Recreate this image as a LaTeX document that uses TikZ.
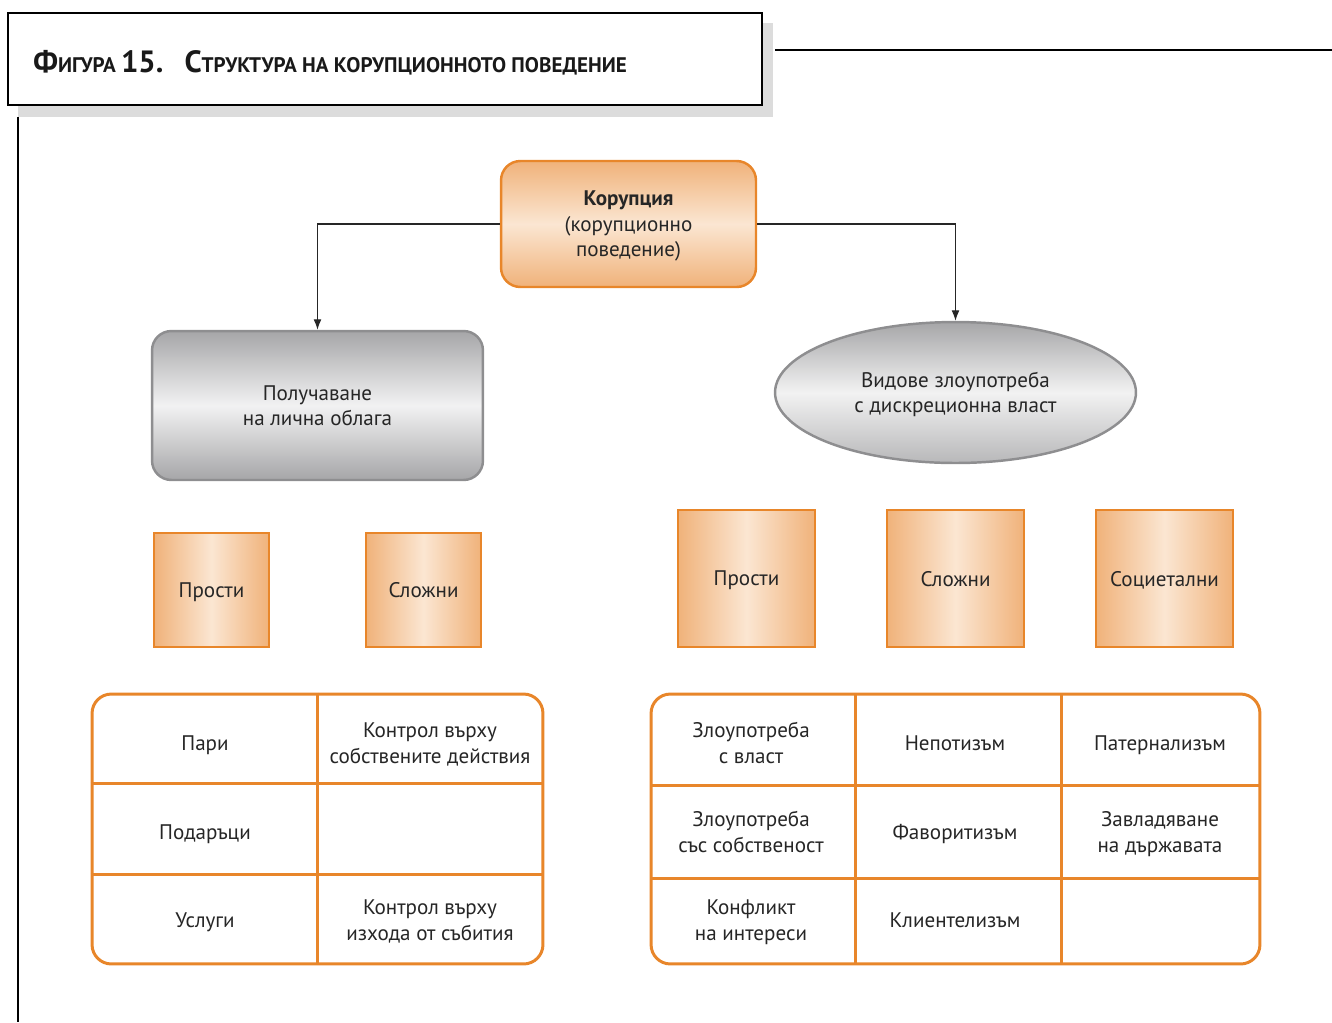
\documentclass[tikz,border=0pt]{standalone}
\usepackage{fontspec}
\setmainfont{PT Sans}
\usetikzlibrary{shapes,arrows,arrows.meta,positioning,calc}

\definecolor{orline}{HTML}{E8862A}
\definecolor{oredge}{HTML}{F0B27A}
\definecolor{ormid}{HTML}{FBE6D2}
\definecolor{grline}{HTML}{8E8E90}
\definecolor{gredge}{HTML}{A6A6A8}
\definecolor{grmid}{HTML}{F2F2F2}
\definecolor{shadowgray}{HTML}{DCDCDC}

% small caps by hand
\newcommand{\capbig}[1]{{\fontsize{17.5}{20}\selectfont #1}}
\newcommand{\capsmall}[1]{{\fontsize{12}{14}\selectfont #1}}
\newcommand{\capgap}{\hskip 3pt}

\begin{document}
\begin{tikzpicture}[
    x=0.02cm, y=-0.02cm,
    font=\fontsize{12}{14.5}\selectfont,
    every node/.append style={text depth=-3pt},
    titlebox/.style={rectangle, draw=black, fill=white, line width=1.2pt, minimum width=15.08cm, minimum height=1.84cm},
    mainbox/.style={rectangle, rounded corners=11pt, draw=orline, line width=1.4pt, top color=oredge, bottom color=oredge, middle color=ormid, minimum width=5.1cm, minimum height=2.52cm, align=center, text=black!85},
    graybox/.style={rectangle, rounded corners=11pt, draw=grline, line width=1.4pt, top color=gredge, bottom color=gredge, middle color=grmid, minimum width=6.62cm, minimum height=2.98cm, align=center, text=black!85},
    grayoval/.style={ellipse, draw=grline, line width=1.4pt, top color=gredge, bottom color=gredge!80, middle color=grmid, minimum width=7.22cm, minimum height=2.82cm, inner sep=0pt, align=center, text=black!85},
    kindbox/.style={rectangle, draw=orline, line width=1.6pt, left color=oredge, right color=oredge, middle color=ormid, minimum width=2.3cm, minimum height=2.28cm, align=center, text=black!85},
    bigkind/.style={kindbox, minimum width=2.74cm, minimum height=2.74cm},
    tablebox/.style={rectangle, rounded corners=11pt, draw=orline, line width=1.7pt},
    gridline/.style={draw=orline, line width=1.7pt},
    cell/.style={align=center, text=black!85},
    arrow/.style={-{Latex[length=6pt,width=4.5pt]}, line width=0.6pt, black!85}
]
\useasboundingbox (0,0) rectangle (1332,1022);

% frame of the figure
\fill[shadowgray] (18,23) rectangle (773,117);
\node[titlebox] (title) at (385,59) {};
\node[anchor=base west, inner sep=0pt, text depth=, font=\bfseries, text=black!90] (titletext) at (33,72) {\capbig{Ф}\capsmall{ИГУРА}\capgap\capbig{15.}\hskip 12pt\capbig{С}\capsmall{ТРУКТУРА}\capgap\capsmall{НА}\capgap\capsmall{КОРУПЦИОННОТО}\capgap\capsmall{ПОВЕДЕНИЕ}};
\draw[line width=1pt] (775,50) -- (1332,50);
\draw[line width=1.3pt] (18,117) -- (18,1022);

% top of the tree
\node[mainbox] (corruption) at (628.5,224) {\textbf{Корупция}\\(корупционно\\поведение)};
\node[graybox] (gain) at (317.5,405.5) {Получаване\\на лична облага};
\node[grayoval] (abuse) at (955.5,392.5) {Видове злоупотреба\\с дискреционна власт};

\draw[arrow] (corruption.west) -| (gain.north);
\draw[arrow] (corruption.east) -| (abuse.north);

% kinds
\node[kindbox] (simpleL) at (211.5,590) {Прости};
\node[kindbox] (complexL) at (423.5,590) {Сложни};
\node[bigkind] (simpleR) at (746.5,578.5) {Прости};
\node[bigkind] (complexR) at (955.5,578.5) {Сложни};
\node[bigkind] (social) at (1164.5,578.5) {Социетални};

% left table
\node[tablebox, minimum width=9.02cm, minimum height=5.4cm] (ltab) at (317.5,829) {};
\draw[gridline] (ltab.north) -- (ltab.south);
\draw[gridline] ($(ltab.north west)!1/3!(ltab.south west)$) -- ($(ltab.north east)!1/3!(ltab.south east)$);
\draw[gridline] ($(ltab.north west)!2/3!(ltab.south west)$) -- ($(ltab.north east)!2/3!(ltab.south east)$);
\node[cell] (money) at (205,743) {Пари};
\node[cell] (ownacts) at (430,743) {Контрол върху\\собствените действия};
\node[cell] (gifts) at (205,832) {Подаръци};
\node[cell] (services) at (205,920) {Услуги};
\node[cell] (outcome) at (430,920) {Контрол върху\\изхода от събития};

% right table
\node[tablebox, minimum width=12.18cm, minimum height=5.4cm] (rtab) at (955.5,829) {};
\draw[gridline] (855,694) -- (855,964);
\draw[gridline] (1061,694) -- (1061,964);
\draw[gridline] (651,785) -- (1260,785);
\draw[gridline] (651,878) -- (1260,878);
\node[cell] (power) at (751,743) {Злоупотреба\\с власт};
\node[cell] (nepotism) at (955,743) {Непотизъм};
\node[cell] (paternal) at (1160,743) {Патернализъм};
\node[cell] (property) at (751,832) {Злоупотреба\\със собственост};
\node[cell] (favour) at (955,832) {Фаворитизъм};
\node[cell] (capture) at (1160,832) {Завладяване\\на държавата};
\node[cell] (conflict) at (751,920) {Конфликт\\на интереси};
\node[cell] (client) at (955,920) {Клиентелизъм};

\end{tikzpicture}
\end{document}
